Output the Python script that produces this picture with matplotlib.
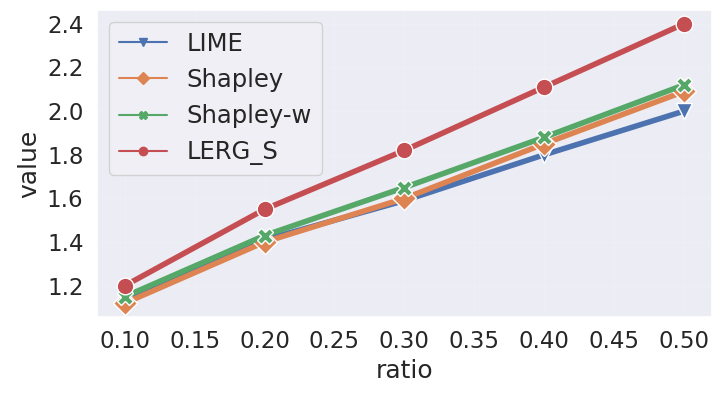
import seaborn as sns
from matplotlib import pyplot as plt
from matplotlib.lines import Line2D

sns.set_theme(style='darkgrid', font_scale=1.5)

ratio = [0.1, 0.2, 0.3, 0.4, 0.5]
lime = [1.13, 1.41, 1.59, 1.80, 2.00]
shapley = [1.12, 1.40, 1.60, 1.85, 2.09]
shapley_w = [1.15, 1.43, 1.65, 1.88, 2.12]
lerg_s = [1.20, 1.55, 1.82, 2.11, 2.40]

names = ['LIME', 'Shapley', 'Shapley-w', 'LERG_S']
series = [lime, shapley, shapley_w, lerg_s]
markers = ['v', 'D', 'X', 'o']
colors = sns.color_palette()[:4]

fig = plt.figure(figsize=(7.22, 3.94), dpi=100)
ax = plt.subplot()
ax.set_facecolor('#ececf4')
handles = []
for name, vals, m, c in zip(names, series, markers, colors):
    ax.plot(ratio, vals, color=c, linewidth=4, marker=m, markersize=12,
            markeredgecolor='white', markeredgewidth=1)
    handles.append(Line2D([], [], color=c, linewidth=1.5, marker=m,
                          markersize=6, markeredgecolor=c))

ax.set_xticks([0.10, 0.15, 0.20, 0.25, 0.30, 0.35, 0.40, 0.45, 0.50])
ax.set_xticklabels(['%.2f' % t for t in ax.get_xticks()])
ax.set_yticks([1.2, 1.4, 1.6, 1.8, 2.0, 2.2, 2.4])
ax.grid(alpha=0.15)
plt.xlabel('ratio')
plt.ylabel('value')
leg = ax.legend(handles, names, loc='upper left', fontsize=17.5, handletextpad=0.8)
leg.get_frame().set_facecolor('#f0f0f6')
plt.subplots_adjust(left=0.134, right=0.986, top=0.975, bottom=0.195)
plt.savefig('out.png')
